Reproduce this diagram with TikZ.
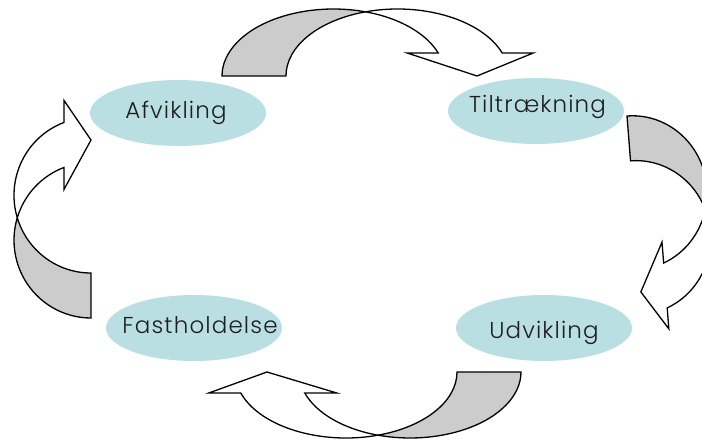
\documentclass[tikz,border=0pt]{standalone}
\usepackage{fontspec}
\setmainfont{Poppins}[UprightFont={* Light}, LetterSpace=5]
\usetikzlibrary{shapes.geometric}
\definecolor{ovalfill}{RGB}{186,223,226}
\definecolor{backgray}{RGB}{204,204,204}
\definecolor{labeltext}{RGB}{30,30,30}
\tikzset{
  backface/.style={fill=backgray, draw=black, line width=1.3pt, line join=miter},
  frontface/.style={fill=white, draw=black, line width=1.3pt, line join=miter},
  stage/.style={ellipse, fill=ovalfill, draw=none, minimum width=176pt, minimum height=66pt, inner sep=0pt},
  stagetext/.style={text=labeltext, font=\fontsize{23}{26}\selectfont, anchor=base, inner sep=0pt}
}
% #1 origin, #2 rotation, #3 rx, #4 ry, #5 thickness, #6 head length, #7 wing overhang
\newcommand{\curvedarrowshape}[7]{%
\begin{scope}[shift={#1}, rotate=#2]
  \pgfmathsetmacro\cvA{acos(#5/(2*#3))}
  \pgfmathsetmacro\cvB{180-\cvA}
  \pgfmathsetmacro\cvP{asin(#6/#4)}
  \pgfmathsetmacro\cvX{cos(\cvP)*#3}
  \filldraw[backface] (0,0)
    arc[start angle=180, end angle=\cvA, x radius=#3pt, y radius=#4pt]
    arc[start angle=\cvB, end angle=180, x radius=#3pt, y radius=#4pt] -- cycle;
  \filldraw[frontface] ({#3+\cvX},#6)
    arc[start angle=\cvP, end angle=\cvA, x radius=#3pt, y radius=#4pt]
    arc[start angle=\cvB, end angle=\cvP, x radius=#3pt, y radius=#4pt]
    -- ({#3+#5+\cvX+#7},#6) -- ({2*#3+#5/2},0) -- ({#3+\cvX-#7},#6) -- cycle;
\end{scope}}
\begin{document}
\begin{tikzpicture}[x=1pt,y=1pt]
\useasboundingbox (0,0) rectangle (702,440);
\fill[white] (0,0) rectangle (702,440);
% ovals
\node[stage] (afv) at (178,327) {};
\node[stage] (til) at (536,329) {};
\node[stage] (fas) at (194,112) {};
\node[stage] (udv) at (544,112) {};
\node[stagetext] (afvt) at (176,321.7) {Afvikling};
\node[stagetext] (tilt) at (537.5,327) {Tiltrækning};
\node[stagetext] (fast) at (200,106.7) {Fastholdelse};
\node[stagetext] (udvt) at (544,102) {Udvikling};
% curved arrows
\curvedarrowshape{(222,364)}{0}{111.5}{67}{64}{23}{31}
\curvedarrowshape{(627,324)}{-85.5}{77}{74}{45}{25}{21}
\curvedarrowshape{(521,68)}{180}{111}{66}{64}{21}{32}
\curvedarrowshape{(91,122)}{90}{77.75}{77}{45}{27}{22}
\end{tikzpicture}
\end{document}
